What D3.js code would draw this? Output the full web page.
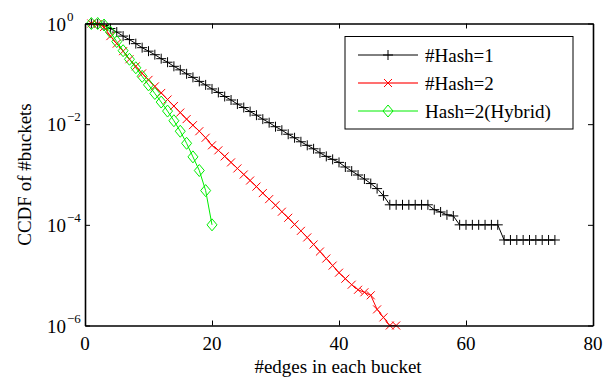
<!DOCTYPE html>
<html>
<head>
<meta charset="utf-8">
<script src="https://cdn.jsdelivr.net/npm/d3@7/dist/d3.min.js"></script>
<style>
  html, body { margin: 0; padding: 0; background: #fff; }
  svg { display: block; }
  svg text { font-family: "Liberation Serif", "Times New Roman", serif; }
</style>
</head>
<body>
<svg id="chart" width="603" height="377"></svg>
<script>
// CCDF of bucket occupancy: one entry per edge count 1..N
const hash1 = [1, 0.977, 0.912, 0.794, 0.676, 0.562, 0.479, 0.398, 0.331, 0.282,
  0.240, 0.200, 0.170, 0.141, 0.120, 0.100, 0.0851, 0.0708, 0.0603, 0.0501,
  0.0427, 0.0355, 0.0302, 0.0251, 0.0214, 0.0178, 0.0151, 0.0126, 0.0107, 0.00891,
  0.00759, 0.00631, 0.00537, 0.00447, 0.00380, 0.00324, 0.00269, 0.00229, 0.00200, 0.00174,
  0.00141, 0.00117, 0.000977, 0.000813, 0.000661, 0.000525, 0.000380, 0.00025, 0.00025, 0.00025,
  0.00025, 0.00025, 0.00025, 0.00025, 0.0002, 0.00018, 0.000158, 0.00015, 0.0001, 0.0001,
  0.0001, 0.0001, 0.0001, 0.0001, 0.0001, 0.00005, 0.00005, 0.00005, 0.00005, 0.00005,
  0.00005, 0.00005, 0.00005, 0.00005];

const hash2 = [1, 0.977, 0.851, 0.562, 0.398, 0.282, 0.195, 0.141, 0.102, 0.0759,
  0.0562, 0.0417, 0.0309, 0.0229, 0.0170, 0.0126, 0.00955, 0.00724, 0.00537, 0.00380,
  0.00302, 0.00229, 0.00174, 0.00132, 0.00100, 0.000759, 0.000575, 0.000427, 0.000324, 0.000245,
  0.000182, 0.000138, 0.000102, 0.0000759, 0.0000562, 0.0000407, 0.0000295, 0.0000214, 0.0000155, 0.0000112,
  0.00000851, 0.00000646, 0.00000513, 0.00000457, 0.00000398, 0.00000209, 0.00000145, 0.000001, 0.000001];

const hybrid = [1, 1, 0.933, 0.676, 0.437, 0.288, 0.195, 0.132, 0.0891, 0.0603,
  0.0407, 0.0275, 0.0182, 0.0117, 0.00724, 0.00417, 0.00224, 0.00120, 0.000479, 0.0001];

const xTicks = [0, 20, 40, 60, 80];
const yTicks = [1, 1e-2, 1e-4, 1e-6];
const yTickExp = ["0", "\u22122", "\u22124", "\u22126"];
const seriesNames = ["#Hash=1", "#Hash=2", "Hash=2(Hybrid)"];

const FONT = "Liberation Serif, Times New Roman, serif";
const svg = d3.select("#chart");
const plotL = 85, plotR = 593, plotT = 23.5, plotB = 325.5;

const x = d3.scaleLinear().domain([0, 80]).range([plotL, plotR]);
const y = d3.scaleLog().domain([1e-6, 1]).range([plotB, plotT]);

const series = [
  { name: seriesNames[0], values: hash1, color: "#000000", marker: "plus", legendColor: "#000000", legendWidth: 1 },
  { name: seriesNames[1], values: hash2, color: "#ff0000", marker: "cross", legendColor: "#ff7070", legendWidth: 2 },
  { name: seriesNames[2], values: hybrid, color: "#00ee00", marker: "diamond", legendColor: "#00ee00", legendWidth: 1 }
];

// markers
function drawMarker(g, type, cx, cy, color) {
  if (type === "plus") {
    g.append("path").attr("d", `M${cx - 5},${cy}H${cx + 5}M${cx},${cy - 5}V${cy + 5}`)
      .attr("stroke", color).attr("stroke-width", 1).attr("fill", "none");
  } else if (type === "cross") {
    g.append("path").attr("d", `M${cx - 4},${cy - 4}L${cx + 4},${cy + 4}M${cx - 4},${cy + 4}L${cx + 4},${cy - 4}`)
      .attr("stroke", color).attr("stroke-width", 1).attr("fill", "none");
  } else {
    g.append("path").attr("d", `M${cx},${cy - 6}L${cx + 5},${cy}L${cx},${cy + 6}L${cx - 5},${cy}Z`)
      .attr("stroke", color).attr("stroke-width", 1).attr("fill", "none");
  }
}

const line = d3.line().x((d, i) => x(i + 1)).y(d => y(d));

const plot = svg.append("g");
series.forEach(s => {
  plot.append("path").datum(s.values).attr("d", line)
    .attr("fill", "none").attr("stroke", s.color).attr("stroke-width", 1);
  const mg = plot.append("g");
  s.values.forEach((v, i) => drawMarker(mg, s.marker, x(i + 1), y(v), s.color));
});

// axes box with inward ticks on all four sides
const axisG = svg.append("g");
axisG.append("g").attr("transform", `translate(0,${plotB})`)
  .call(d3.axisBottom(x).tickValues(xTicks).tickSizeInner(-5).tickSizeOuter(0).tickFormat(""));
axisG.append("g").attr("transform", `translate(0,${plotT})`)
  .call(d3.axisTop(x).tickValues(xTicks).tickSizeInner(-5).tickSizeOuter(0).tickFormat(""));
axisG.append("g").attr("transform", `translate(${plotL},0)`)
  .call(d3.axisLeft(y).tickValues(yTicks).tickSizeInner(-5).tickSizeOuter(0).tickFormat(""));
axisG.append("g").attr("transform", `translate(${plotR},0)`)
  .call(d3.axisRight(y).tickValues(yTicks).tickSizeInner(-5).tickSizeOuter(0).tickFormat(""));
axisG.selectAll(".domain").attr("stroke", "#000").attr("stroke-width", 1.6);
axisG.selectAll(".tick line").attr("stroke", "#000").attr("stroke-width", 1);

// tick labels
xTicks.forEach(t => {
  svg.append("text").attr("x", x(t)).attr("y", 350).attr("text-anchor", "middle")
    .attr("font-family", FONT).attr("font-size", 19).text(t);
});
yTicks.forEach((t, i) => {
  const ty = y(t) + 7;
  svg.append("text").attr("x", 66).attr("y", ty).attr("text-anchor", "end")
    .attr("font-family", FONT).attr("font-size", 19).text("10");
  svg.append("text").attr("x", 67).attr("y", ty - 10).attr("text-anchor", "start")
    .attr("font-family", FONT).attr("font-size", 13).text(yTickExp[i]);
});

// axis titles
svg.append("text").attr("x", 338).attr("y", 373).attr("text-anchor", "middle")
  .attr("font-family", FONT).attr("font-size", 19).text("#edges in each bucket");
svg.append("text").attr("transform", `translate(31,${(plotT + plotB) / 2}) rotate(-90)`)
  .attr("text-anchor", "middle").attr("font-family", FONT).attr("font-size", 19).text("CCDF of #buckets");

// legend
const lg = svg.append("g");
lg.append("rect").attr("x", 345).attr("y", 36.5).attr("width", 228).attr("height", 92.5)
  .attr("fill", "#fff").attr("stroke", "#000").attr("stroke-width", 1);
series.forEach((s, i) => {
  const ly = 55 + i * 28;
  lg.append("line").attr("x1", 358).attr("x2", 418).attr("y1", ly).attr("y2", ly)
    .attr("stroke", s.legendColor).attr("stroke-width", s.legendWidth);
  drawMarker(lg, s.marker, 388, ly, s.color);
  lg.append("text").attr("x", 425).attr("y", ly + 6.5)
    .attr("font-family", FONT).attr("font-size", 19).text(s.name);
});
</script>
</body>
</html>
